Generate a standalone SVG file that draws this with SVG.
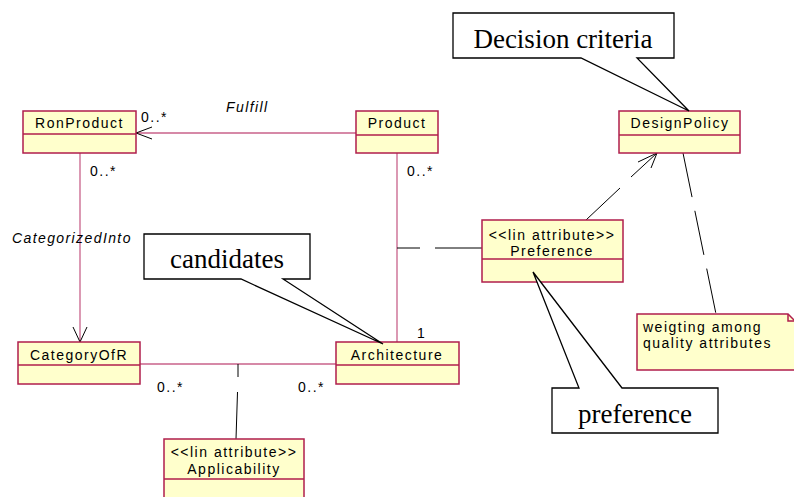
<svg xmlns="http://www.w3.org/2000/svg" width="794" height="497" viewBox="0 0 794 497">
<style>
.box{fill:#ffffcc;stroke:#b01e4c;stroke-width:1.5}
.div{stroke:#b01e4c;stroke-width:1.5}
.lbl{font-family:"Liberation Sans",Arial,sans-serif;font-size:14px;letter-spacing:1.5px;fill:#000}
.ital{font-family:"Liberation Sans",Arial,sans-serif;font-size:14px;font-style:italic;letter-spacing:1.4px;fill:#000}
.assoc{stroke:#c8628a;stroke-width:1.3;fill:none}
.blk{stroke:#000;stroke-width:1;fill:none}
.dash{stroke:#000;stroke-width:1;fill:none;stroke-dasharray:45 14}
.call{fill:#fff;stroke:#000;stroke-width:1.3}
.ctext{font-family:"Liberation Serif","Times New Roman",serif;font-size:27px;fill:#000}
</style>
<rect width="794" height="497" fill="#fff"/>
<g id="connectors">
  <line class="assoc" x1="356" y1="133" x2="136" y2="133"/>
  <polyline class="blk" points="152,127 136,133 152,139"/>
  <line class="assoc" x1="80" y1="153" x2="80" y2="342"/>
  <polyline class="blk" points="73,327 80,342 87,327"/>
  <line class="assoc" x1="397" y1="153" x2="397" y2="342"/>
  <line class="assoc" x1="140" y1="364" x2="336" y2="364"/>
  <line class="blk" x1="238" y1="364" x2="238" y2="377"/>
  <line class="blk" x1="237.5" y1="392" x2="236" y2="439"/>
  <line class="blk" x1="397" y1="248" x2="420" y2="248"/>
  <line class="blk" x1="435" y1="248" x2="482" y2="248"/>
  <line class="blk" x1="586" y1="220" x2="620" y2="188"/>
  <line class="blk" x1="631" y1="177" x2="657" y2="153"/>
  <polyline class="blk" points="638,162 657,153 651,168"/>
  <line class="dash" x1="683" y1="153" x2="716" y2="314"/>
  <text class="ital" x="226" y="112">Fulfill</text>
  <text class="lbl" x="141" y="122">0..*</text>
  <text class="lbl" x="90" y="176">0..*</text>
  <text class="ital" x="12" y="243">CategorizedInto</text>
  <text class="lbl" x="407" y="176">0..*</text>
  <text class="lbl" x="157" y="392">0..*</text>
  <text class="lbl" x="298" y="392">0..*</text>
  <text class="lbl" x="417" y="338">1</text>
</g>
<g id="RonProduct">
  <rect class="box" x="23" y="111" width="113" height="42"/>
  <line class="div" x1="23" y1="134" x2="136" y2="134"/>
  <text class="lbl" x="79.5" y="128" text-anchor="middle">RonProduct</text>
</g>
<g id="Product">
  <rect class="box" x="356" y="111" width="82" height="42"/>
  <line class="div" x1="356" y1="135" x2="438" y2="135"/>
  <text class="lbl" x="397" y="128" text-anchor="middle">Product</text>
</g>
<g id="DesignPolicy">
  <rect class="box" x="619" y="111" width="121" height="42"/>
  <line class="div" x1="619" y1="135" x2="740" y2="135"/>
  <text class="lbl" x="680" y="128" text-anchor="middle">DesignPolicy</text>
</g>
<g id="Preference">
  <rect class="box" x="482" y="220" width="141" height="62"/>
  <line class="div" x1="482" y1="259" x2="623" y2="259"/>
  <text class="lbl" x="552" y="240" text-anchor="middle">&lt;&lt;lin attribute&gt;&gt;</text>
  <text class="lbl" x="552" y="256" text-anchor="middle">Preference</text>
</g>
<g id="CategoryOfR">
  <rect class="box" x="18" y="342" width="122" height="42"/>
  <line class="div" x1="18" y1="365" x2="140" y2="365"/>
  <text class="lbl" x="79" y="360" text-anchor="middle">CategoryOfR</text>
</g>
<g id="Architecture">
  <rect class="box" x="336" y="342" width="123" height="42"/>
  <line class="div" x1="336" y1="365" x2="459" y2="365"/>
  <text class="lbl" x="397" y="360" text-anchor="middle">Architecture</text>
</g>
<g id="Applicability">
  <rect class="box" x="164" y="439" width="140" height="70"/>
  <line class="div" x1="164" y1="479" x2="304" y2="479"/>
  <text class="lbl" x="234" y="457" text-anchor="middle">&lt;&lt;lin attribute&gt;&gt;</text>
  <text class="lbl" x="234" y="474" text-anchor="middle">Applicability</text>
</g>
<g id="note">
  <path class="box" d="M637,314 H788 L800,326 V370 H637 Z"/>
  <path class="div" fill="none" d="M788,314 V321 H796"/>
  <text class="lbl" x="643" y="332">weigting among</text>
  <text class="lbl" x="643" y="348">quality attributes</text>
</g>
<g id="callout-decision">
  <path class="call" d="M453,13 H674 V58 H637 L689,111 L581,58 H453 Z"/>
  <text class="ctext" x="563" y="48" text-anchor="middle">Decision criteria</text>
</g>
<g id="callout-candidates">
  <path class="call" d="M144,234 H310 V279 H283 L383,344 L241,279 H144 Z"/>
  <text class="ctext" x="227" y="268" text-anchor="middle">candidates</text>
</g>
<g id="callout-preference">
  <path class="call" d="M552,388 H579 L533,272 L622,388 H718 V433 H552 Z"/>
  <text class="ctext" x="635" y="423" text-anchor="middle">preference</text>
</g>
</svg>
